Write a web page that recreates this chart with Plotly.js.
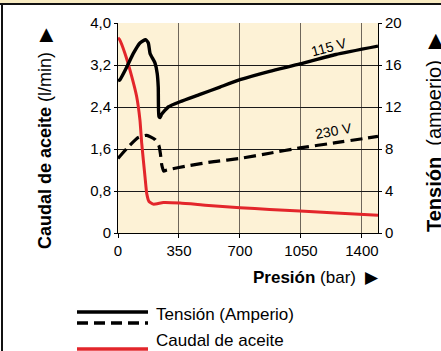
<!DOCTYPE html>
<html><head><meta charset="utf-8">
<script src="https://cdn.plot.ly/plotly-3.0.1.min.js"></script>
<style>
html,body{margin:0;padding:0;background:#fff;}
#wrap{position:relative;width:441px;height:351px;overflow:hidden;}
#chart{width:441px;height:351px;}
#band{position:absolute;left:0;top:0;width:441px;height:3px;background:#f8ebc2;}
#topline{position:absolute;left:0;top:3px;width:441px;height:2px;background:#111;}
#leftline{position:absolute;left:1px;top:3px;width:2px;height:348px;background:#111;}
</style></head>
<body><div id="wrap"><div id="chart"></div><div id="band"></div><div id="topline"></div><div id="leftline"></div></div>
<script>
// Presión (bar) vs Tensión 115 V (amperio)
const x115 = [0, 11, 50, 88, 126, 158, 174, 184, 212, 225, 231, 235, 242, 250, 288, 356, 471, 585, 700, 870, 1044, 1250, 1492];
const a115 = [14.5, 14.6, 15.8, 17.1, 18.1, 18.4, 18.1, 17.1, 16.2, 15.2, 13.9, 11.1, 11.0, 11.3, 12.0, 12.5, 13.2, 13.9, 14.6, 15.4, 16.1, 17.0, 17.8];
// Presión (bar) vs Tensión 230 V (amperio)
const x230 = [0, 59, 117, 165, 212, 235, 243, 251, 262, 280, 400, 550, 700, 870, 1044, 1250, 1492];
const a230 = [7.1, 8.2, 9.1, 9.3, 8.9, 8.3, 7.6, 6.5, 5.9, 6.0, 6.4, 6.8, 7.1, 7.6, 8.1, 8.6, 9.2];
// Presión (bar) vs Caudal de aceite (l/min)
const xQ = [0, 8, 40, 79, 107, 126, 136, 155, 165, 178, 203, 260, 356, 500, 700, 870, 1044, 1250, 1492];
const qQ = [3.72, 3.69, 3.42, 2.98, 2.60, 2.15, 1.71, 1.07, 0.75, 0.60, 0.55, 0.58, 0.57, 0.53, 0.48, 0.45, 0.42, 0.38, 0.34];
// tick labels
const xTicks = [0, 350, 700, 1050, 1400];
const yTicks = [0, 0.8, 1.6, 2.4, 3.2, 4.0];
const yTickText = ['0', '0,8', '1,6', '2,4', '3,2', '4,0'];
const y2Ticks = [0, 4, 8, 12, 16, 20];
const y2TickText = ['0', '4', '8', '12', '16', '20'];

const L = 118, T = 23, W = 260, H = 210;
const px = v => (v - L) / W;
const py = v => (T + H - v) / H;
const REG = '"Liberation Sans", Arial, sans-serif';

const traces = [
  {x: xQ, y: qQ, type: 'scatter', mode: 'lines', line: {color: '#e3262b', width: 3, shape: 'spline', smoothing: 0.4}, yaxis: 'y'},
  {x: x230, y: a230, type: 'scatter', mode: 'lines', line: {color: '#000', width: 3.2, dash: '12px,6px', shape: 'spline', smoothing: 0.5}, yaxis: 'y2'},
  {x: x115, y: a115, type: 'scatter', mode: 'lines', line: {color: '#000', width: 3.4, shape: 'spline', smoothing: 0.5}, yaxis: 'y2'}
];

const layout = {
  width: 441, height: 351,
  margin: {l: L, r: 441 - L - W, t: T, b: 351 - T - H, pad: 0},
  paper_bgcolor: '#fff', plot_bgcolor: '#fdf2d6',
  showlegend: false,
  font: {family: REG, size: 15, color: '#000'},
  xaxis: {range: [0, 1492], tickvals: xTicks, ticktext: xTicks.map(String), showgrid: true, gridcolor: '#6e665a', gridwidth: 1,
          showline: true, linecolor: '#000', linewidth: 1, ticks: 'outside', ticklen: 4, tickcolor: '#000', zeroline: false,
          tickfont: {family: REG, size: 15}, fixedrange: true},
  yaxis: {range: [0, 4], tickvals: yTicks, ticktext: yTickText, showgrid: true, gridcolor: '#1a1a1a', gridwidth: 1,
          showline: true, linecolor: '#000', linewidth: 1, ticks: 'outside', ticklen: 3, tickcolor: '#000', zeroline: false,
          tickfont: {family: REG, size: 15}, fixedrange: true},
  yaxis2: {range: [0, 20], tickvals: y2Ticks, ticktext: y2TickText, overlaying: 'y', side: 'right', showgrid: false,
          showline: true, linecolor: '#000', linewidth: 1, ticks: 'outside', ticklen: 3, tickcolor: '#000', zeroline: false,
          tickfont: {family: REG, size: 15}, fixedrange: true},
  shapes: [
    {type: 'line', xref: 'paper', yref: 'paper', x0: px(77), x1: px(148), y0: py(312), y1: py(312), line: {color: '#000', width: 3.5}},
    {type: 'line', xref: 'paper', yref: 'paper', x0: px(77), x1: px(148), y0: py(323), y1: py(323), line: {color: '#000', width: 3.5, dash: '11px,6px'}},
    {type: 'line', xref: 'paper', yref: 'paper', x0: px(77), x1: px(148), y0: py(349), y1: py(349), line: {color: '#e3262b', width: 3.5}}
  ],
  annotations: [
    {xref: 'paper', yref: 'paper', x: px(45), y: py(139), xanchor: 'center', yanchor: 'middle', textangle: -90, showarrow: false,
     text: '<b>Caudal de aceite</b> (l/min)  ▶', font: {family: REG, size: 18, color: '#000'}},
    {xref: 'paper', yref: 'paper', x: px(434), y: py(133), xanchor: 'center', yanchor: 'middle', textangle: -90, showarrow: false,
     text: '<b>Tensión</b>  (amperio)  ▶', font: {family: REG, size: 20, color: '#000'}},
    {xref: 'paper', yref: 'paper', x: px(381), y: py(277), xanchor: 'right', yanchor: 'middle', showarrow: false,
     text: '<b>Presión</b> (bar)  ▶', font: {family: REG, size: 17, color: '#000'}},
    {xref: 'paper', yref: 'paper', x: px(154), y: py(314), xanchor: 'left', yanchor: 'middle', showarrow: false,
     text: 'Tensión (Amperio)', font: {family: REG, size: 17, color: '#000'}},
    {xref: 'paper', yref: 'paper', x: px(154), y: py(340), xanchor: 'left', yanchor: 'middle', showarrow: false,
     text: 'Caudal de aceite', font: {family: REG, size: 17, color: '#000'}},
    {xref: 'x', yref: 'y2', x: 1211, y: 17.7, textangle: -15, showarrow: false, text: '115 V', font: {family: REG, size: 14, color: '#000'}},
    {xref: 'x', yref: 'y2', x: 1234, y: 9.75, textangle: -10, showarrow: false, text: '230 V', font: {family: REG, size: 14, color: '#000'}}
  ]
};
Plotly.newPlot('chart', traces, layout, {staticPlot: true, displayModeBar: false});
</script></body></html>
